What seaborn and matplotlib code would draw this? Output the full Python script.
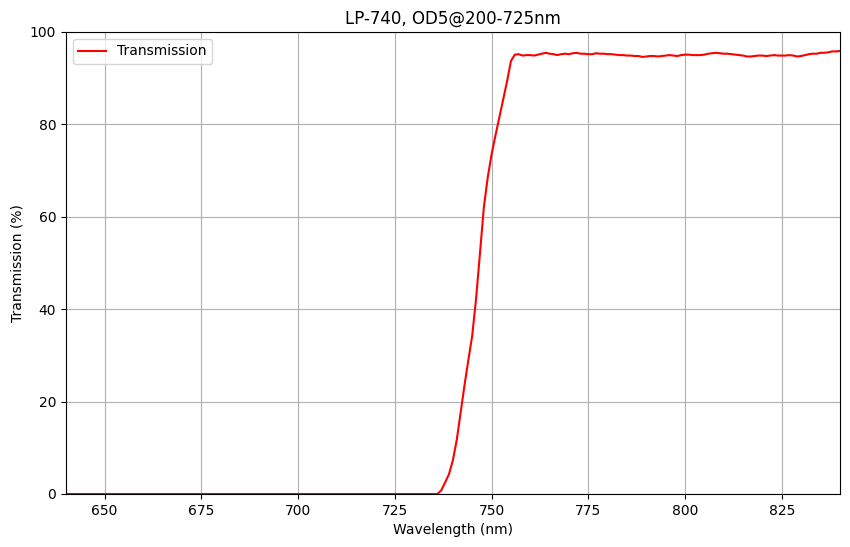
import matplotlib
matplotlib.use("Agg")
import matplotlib.pyplot as plt
import seaborn as sns
import pandas as pd

# Wavelength (nm) and transmission (%)
blocked_wl = [640, 736]
blocked_t = [0.0, 0.0]

edge_wl = [737, 738, 739, 740, 741, 742, 743, 744, 745, 746, 747, 748, 749,
           750, 751, 752, 753, 754, 755]
edge_t = [0.8, 2.5, 4.3, 7.3, 11.7, 17.6, 23.5, 29.0, 34.3, 42.3, 52.1, 62.0,
          68.5, 73.5, 77.6, 81.5, 85.4, 89.3, 93.7]

pass_wl = list(range(756, 841))
pass_t = [95.1, 95.2, 94.9, 95.0, 95.0, 94.9, 95.1, 95.3, 95.5, 95.3,
          95.2, 95.0, 95.2, 95.3, 95.2, 95.4, 95.5, 95.3, 95.3, 95.2,
          95.2, 95.4, 95.3, 95.3, 95.2, 95.2, 95.1, 95.0, 95.0, 94.9,
          94.9, 94.8, 94.8, 94.6, 94.7, 94.8, 94.8, 94.7, 94.8, 94.9,
          95.0, 94.9, 94.8, 95.0, 95.1, 95.1, 95.0, 95.0, 95.0, 95.1,
          95.3, 95.4, 95.5, 95.4, 95.3, 95.3, 95.2, 95.1, 95.0, 94.9,
          94.7, 94.7, 94.8, 94.9, 94.9, 94.8, 94.9, 95.0, 94.9, 94.9,
          94.9, 95.0, 94.9, 94.7, 94.8, 95.0, 95.2, 95.3, 95.3, 95.5,
          95.5, 95.6, 95.8, 95.8, 95.9]

df = pd.DataFrame({
    "Wavelength": blocked_wl + edge_wl + pass_wl,
    "Transmission": blocked_t + edge_t + pass_t,
})

fig = plt.figure(figsize=(8.5, 5.47), dpi=100)
ax = fig.add_axes([0.0776, 0.0969, 0.9104, 0.8446])
sns.lineplot(data=df, x="Wavelength", y="Transmission", color="red",
             linewidth=1.5, label="Transmission", ax=ax, estimator=None, sort=False)
ax.set_xlim(640, 840)
ax.set_ylim(0, 100)
ax.set_xticks([650, 675, 700, 725, 750, 775, 800, 825])
ax.set_yticks([0, 20, 40, 60, 80, 100])
ax.grid(True, color="#b0b0b0", linewidth=0.8)
ax.set_xlabel("Wavelength (nm)")
ax.set_ylabel("Transmission (%)")
ax.set_title("LP-740, OD5@200-725nm")
ax.legend(loc="upper left")
fig.savefig("out.png", dpi=100)
